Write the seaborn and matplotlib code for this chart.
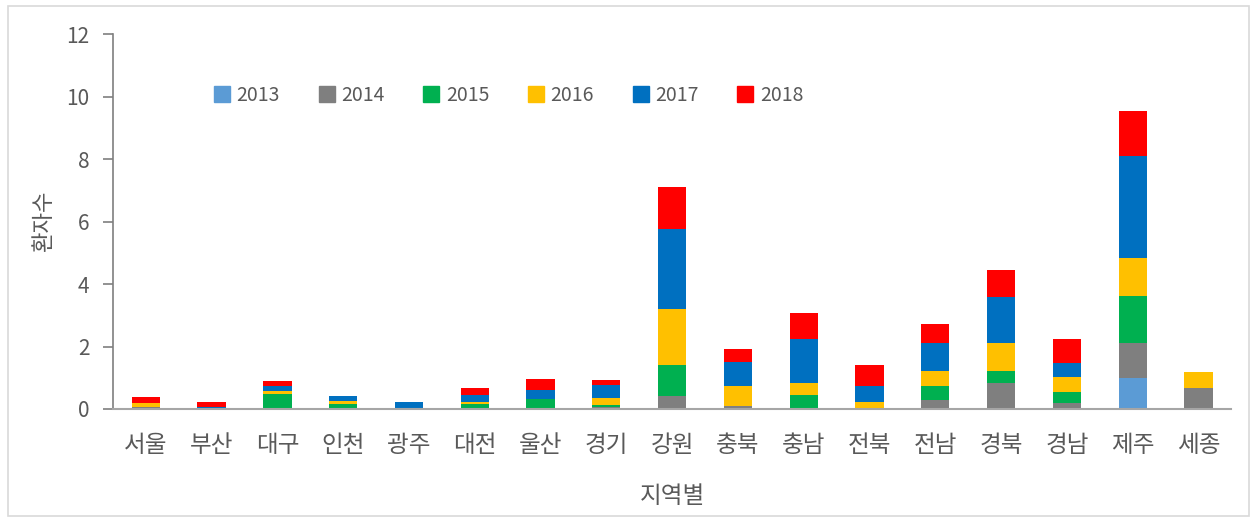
import numpy as np
import pandas as pd
import matplotlib
matplotlib.use("Agg")
import matplotlib.pyplot as plt
import seaborn as sns
from matplotlib.patches import Rectangle
from matplotlib.lines import Line2D

regions = ['서울', '부산', '대구', '인천', '광주', '대전', '울산', '경기', '강원',
           '충북', '충남', '전북', '전남', '경북', '경남', '제주', '세종']
years = ['2013', '2014', '2015', '2016', '2017', '2018']

v2013 = [0, 0, 0, 0, 0, 0, 0, 0, 0, 0, 0, 0, 0, 0, 0, 1.0, 0]
v2014 = [0.05, 0, 0, 0, 0, 0, 0, 0.05, 0.4, 0.1, 0, 0, 0.3, 0.84, 0.18, 1.12, 0.66]
v2015 = [0, 0, 0.47, 0.15, 0, 0.17, 0.33, 0.08, 1.0, 0, 0.45, 0, 0.42, 0.39, 0.37, 1.5, 0]
v2016 = [0.15, 0, 0.09, 0.1, 0, 0.05, 0, 0.21, 1.8, 0.65, 0.37, 0.23, 0.5, 0.87, 0.48, 1.22, 0.53]
v2017 = [0, 0.05, 0.17, 0.18, 0.23, 0.22, 0.27, 0.42, 2.55, 0.77, 1.41, 0.51, 0.9, 1.5, 0.43, 3.25, 0]
v2018 = [0.17, 0.18, 0.17, 0, 0, 0.24, 0.35, 0.18, 1.35, 0.4, 0.85, 0.67, 0.6, 0.85, 0.77, 1.44, 0]

colors = ['#5B9BD5', '#7F7F7F', '#00B050', '#FFC000', '#0070C0', '#FF0000']

df = pd.DataFrame({'지역': regions, '2013': v2013, '2014': v2014, '2015': v2015,
                   '2016': v2016, '2017': v2017, '2018': v2018})

sns.set_style('white')
plt.rcParams['font.family'] = ['Noto Sans CJK KR', 'DejaVu Sans']

fig = plt.figure(figsize=(12.54, 5.19), dpi=100)
ax = fig.add_axes([0.09, 0.212, 0.892, 0.722])

# stacked bars, one layer per year
bottom = np.zeros(len(regions))
for y, c in zip(years, colors):
    sns.barplot(x='지역', y=y, data=df, color=c, bottom=bottom, width=0.43,
                ax=ax, saturation=1, linewidth=0)
    bottom = bottom + df[y].values

ax.set_xlim(-0.5, len(regions) - 0.5)
ax.set_ylim(0, 12)
ax.set_yticks(range(0, 13, 2))
ax.set_xticks(range(len(regions)))
ax.set_xticklabels(regions)
ax.set_xticks(np.arange(-0.5, len(regions), 1), minor=True)
ax.tick_params(axis='x', which='major', length=0, labelsize=17, colors='#595959', pad=18)
ax.tick_params(axis='x', which='minor', length=7, width=1.2, color='#A6A6A6', direction='out')
ax.tick_params(axis='y', length=7, width=1.2, color='#7F7F7F', labelsize=15,
               labelcolor='#595959', left=True, pad=10)
for s in ['top', 'right']:
    ax.spines[s].set_visible(False)
ax.spines['left'].set_color('#7F7F7F')
ax.spines['left'].set_linewidth(1.2)
ax.spines['bottom'].set_color('#A6A6A6')
ax.spines['bottom'].set_linewidth(1.5)

ax.set_xlabel('지역별', fontsize=17, color='#595959', labelpad=20)
ax.set_ylabel('환자수', fontsize=16, color='#595959', labelpad=8)

handles = [Line2D([], [], marker='s', linestyle='', color=c, markersize=11) for c in colors]
ax.legend(handles, years, ncol=6, frameon=False, loc='center left',
          bbox_to_anchor=(0.075, 0.837), fontsize=14, handlelength=0.8,
          handletextpad=0.35, columnspacing=2.0, labelcolor='#595959')

fig.patches.append(Rectangle((0.006, 0.006), 0.99, 0.982, transform=fig.transFigure,
                             fill=False, edgecolor='#D9D9D9', linewidth=1.2))

fig.savefig('out.png', dpi=100)
